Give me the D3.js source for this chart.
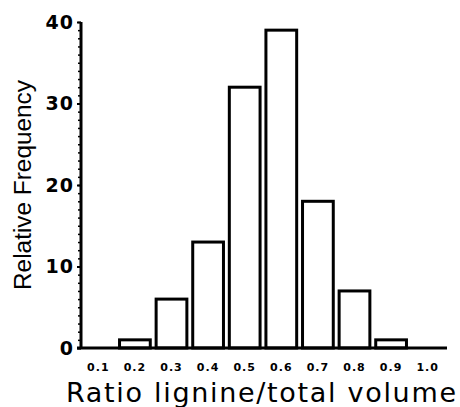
<!DOCTYPE html>
<html>
<head>
<meta charset="utf-8">
<script src="https://cdnjs.cloudflare.com/ajax/libs/d3/7.8.5/d3.min.js"></script>
<style>
  body { margin: 0; background: #fff; }
  svg { display: block; }
</style>
</head>
<body>
<div id="chart"></div>
<script>
// chart data
var ratios = ["0.1", "0.2", "0.3", "0.4", "0.5", "0.6", "0.7", "0.8", "0.9", "1.0"];
var frequencies = [0, 1, 6, 13, 32, 39, 18, 7, 1, 0];
var yTicks = [0, 10, 20, 30, 40];

var data = ratios.map((r, i) => ({ ratio: r, freq: frequencies[i] }));

var svgWidth = 460;
var svgHeight = 407;

var svg = d3.select("#chart")
  .append("svg")
  .attr("width", svgWidth)
  .attr("height", svgHeight);

// scales
var xScale = d3.scaleBand()
  .domain(ratios)
  .range([80, 446])
  .paddingInner(0.16)
  .paddingOuter(0.08);

var yScale = d3.scaleLinear()
  .domain([0, 40])
  .range([348, 22]);

// bars (empty classes have no bar)
svg.selectAll("rect.bar")
  .data(data.filter(d => d.freq > 0))
  .enter()
  .append("rect")
  .attr("class", "bar")
  .attr("x", d => xScale(d.ratio))
  .attr("y", d => yScale(d.freq))
  .attr("width", xScale.bandwidth())
  .attr("height", d => yScale(0) - yScale(d.freq))
  .attr("fill", "white")
  .attr("stroke", "black")
  .attr("stroke-width", 3);

// y axis: minor ticks
var minorAxis = d3.axisLeft(yScale)
  .tickValues(d3.range(0, 41, 1))
  .tickSize(3)
  .tickFormat("");

svg.append("g")
  .attr("transform", "translate(81,0)")
  .call(minorAxis)
  .call(g => g.select(".domain").remove())
  .selectAll("line").attr("stroke-width", 1.5);

// y axis: major ticks
var leftAxis = d3.axisLeft(yScale)
  .tickValues(yTicks)
  .tickSize(4)
  .tickPadding(3);

svg.append("g")
  .attr("class", "yaxis")
  .attr("transform", "translate(81,0)")
  .call(leftAxis)
  .call(g => g.select(".domain").attr("stroke-width", 3).attr("d", "M0,22V349"))
  .call(g => g.selectAll("line").attr("stroke-width", 2))
  .selectAll("text")
  .style("font-family", "DejaVu Sans")
  .style("font-weight", "bold")
  .style("font-size", "19px")
  .style("letter-spacing", "1px")
  .attr("fill", "black");

// x axis
var bottomAxis = d3.axisBottom(xScale)
  .tickSize(0)
  .tickPadding(15);

svg.append("g")
  .attr("transform", "translate(0,348)")
  .call(bottomAxis)
  .call(g => g.select(".domain").attr("stroke-width", 3).attr("d", "M77,0H447"))
  .selectAll("text")
  .style("font-family", "DejaVu Sans")
  .style("font-weight", "bold")
  .style("font-size", "11px")
  .style("letter-spacing", "1px")
  .attr("fill", "black");

// axis labels
svg.append("text")
  .attr("transform", "rotate(-90)")
  .attr("x", -185)
  .attr("y", 31)
  .attr("text-anchor", "middle")
  .attr("textLength", 210)
  .attr("lengthAdjust", "spacingAndGlyphs")
  .style("font-family", "Liberation Sans")
  .style("font-size", "23px")
  .text("Relative Frequency");

svg.append("text")
  .attr("x", 261)
  .attr("y", 402)
  .attr("text-anchor", "middle")
  .attr("textLength", 390)
  .attr("lengthAdjust", "spacing")
  .style("font-family", "DejaVu Sans")
  .style("font-size", "27px")
  .text("Ratio lignine/total volume");
</script>
</body>
</html>
